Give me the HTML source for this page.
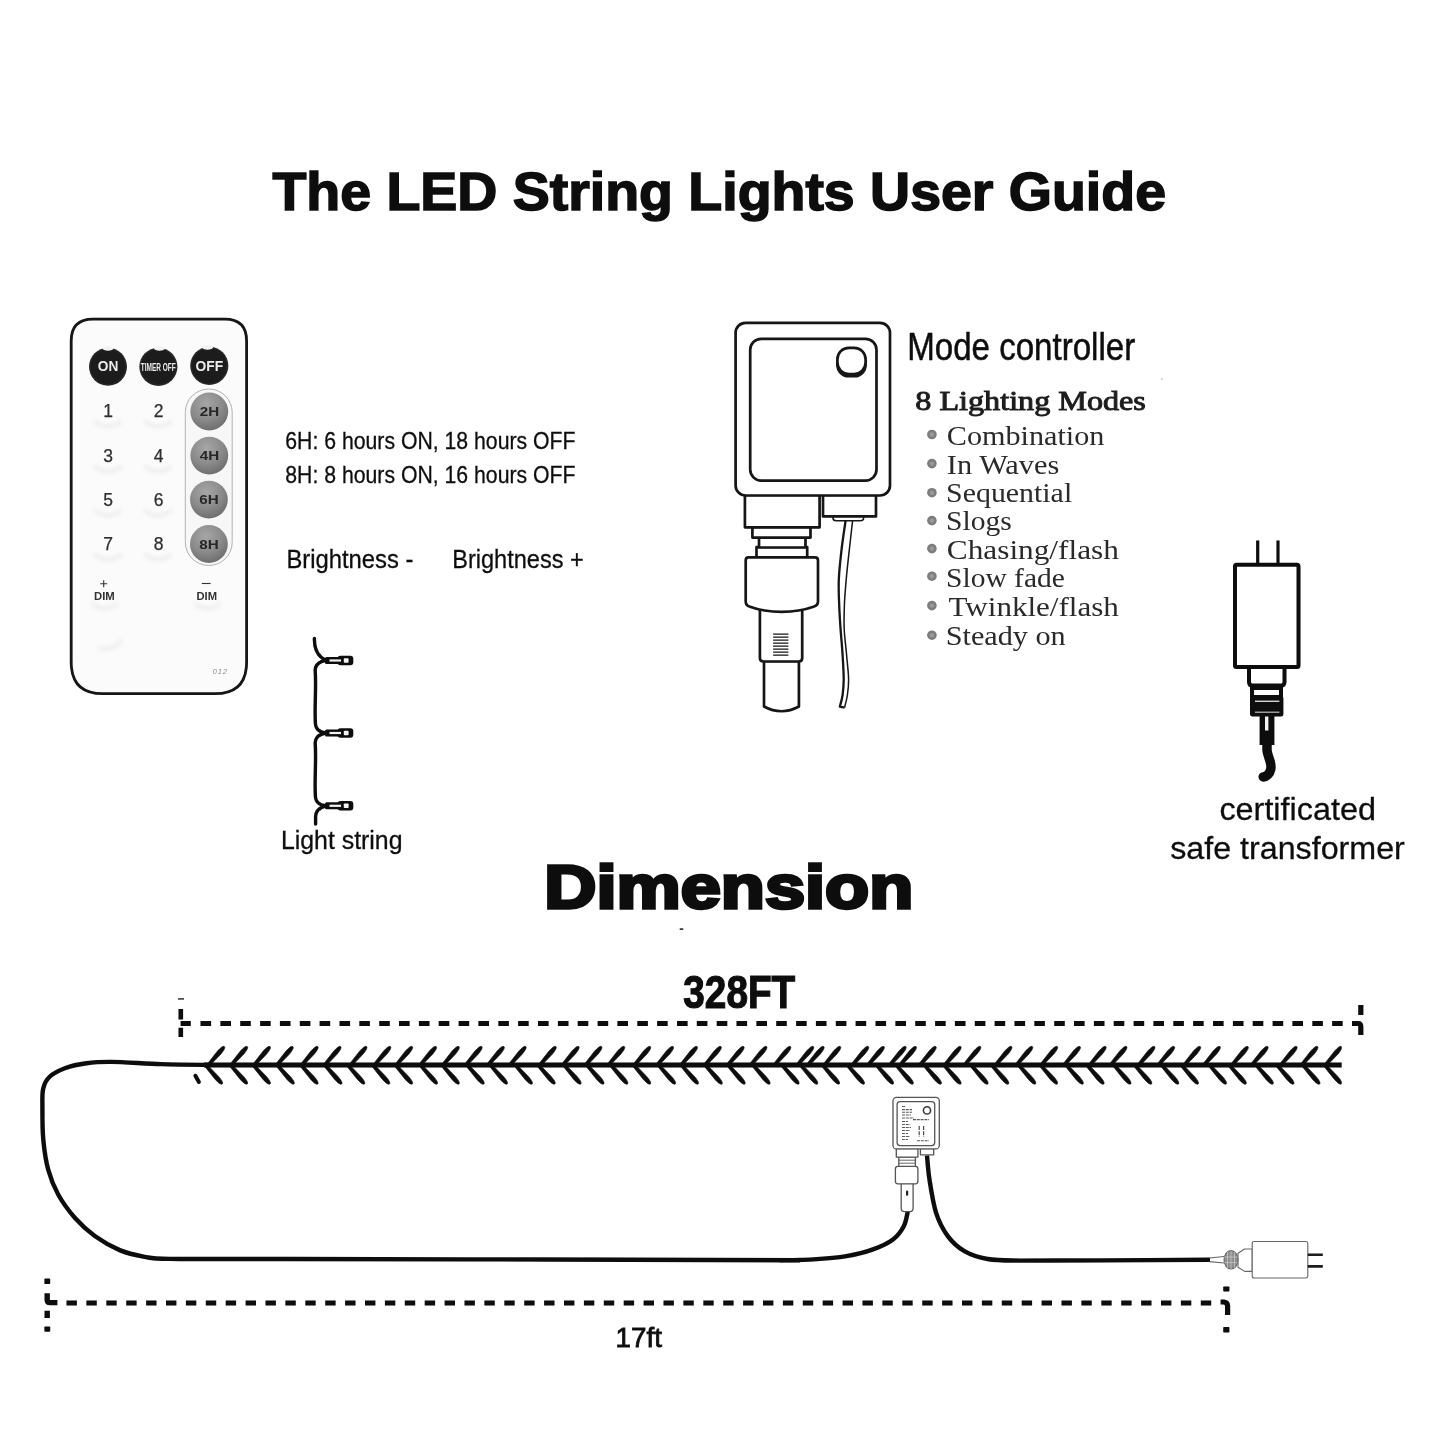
<!DOCTYPE html>
<html lang="en">
<head>
<meta charset="utf-8">
<title>The LED String Lights User Guide</title>
<style>
  html, body { margin: 0; padding: 0; background: #ffffff; }
  body { width: 1445px; height: 1445px; overflow: hidden; }
  svg { display: block; }
  .sans { font-family: "Liberation Sans", Arial, Helvetica, sans-serif; }
  .serif { font-family: "Liberation Serif", "Times New Roman", serif; }
  .b { font-weight: bold; }
</style>
</head>
<body>
<svg width="1445" height="1445" viewBox="0 0 1445 1445">
  <rect x="0" y="0" width="1445" height="1445" fill="#ffffff"/>
  <defs><filter id="soften" x="0" y="0" width="1445" height="1445" filterUnits="userSpaceOnUse"><feGaussianBlur stdDeviation="0.45"/></filter></defs>
  <g id="all" filter="url(#soften)">

  <!-- ===== TITLE ===== -->
  <g id="title">
    <text class="sans b" x="272.4" y="209.5" font-size="53" fill="#0a0a0a" stroke="#0a0a0a" stroke-width="1.5" textLength="893.6" lengthAdjust="spacingAndGlyphs">The LED String Lights User Guide</text>
  </g>

  <!-- ===== REMOTE ===== -->
  <g id="remote">
    <defs>
      <radialGradient id="gbtn" cx="42%" cy="30%" r="75%">
        <stop offset="0" stop-color="#a6a6a6"/>
        <stop offset="0.55" stop-color="#8b8b8b"/>
        <stop offset="1" stop-color="#6a6a6a"/>
      </radialGradient>
      <radialGradient id="kbtn" cx="50%" cy="50%" r="50%">
        <stop offset="0" stop-color="#1c1c1c"/>
        <stop offset="0.85" stop-color="#1a1a1a"/>
        <stop offset="1" stop-color="#2c2c2c"/>
      </radialGradient>
      <filter id="soft" x="-30%" y="-30%" width="160%" height="160%"><feGaussianBlur stdDeviation="2.2"/></filter>
      <filter id="soft1" x="-20%" y="-20%" width="140%" height="140%"><feGaussianBlur stdDeviation="0.7"/></filter>
    </defs>
    <!-- body -->
    <path d="M 93 319.1 H 224.8 C 239.4 319.1 246.6 326.5 246.6 341 V 662 C 246.6 683.2 236.4 693.7 215.2 693.7 H 102.5 C 81.5 693.7 71.2 683.2 71.2 662 V 341 C 71.2 326.5 78.5 319.1 93 319.1 Z" fill="#fbfbfb" stroke="#151515" stroke-width="2.8"/>
    <!-- faint embossed key shadows -->
    <g fill="none" stroke="#e6e6e6" stroke-width="2.6" filter="url(#soft)">
      <path d="M 94 421 Q 108 432 122 421"/><path d="M 144 421 Q 158 432 172 421"/>
      <path d="M 94 466 Q 108 477 122 466"/><path d="M 144 466 Q 158 477 172 466"/>
      <path d="M 94 510 Q 108 521 122 510"/><path d="M 144 510 Q 158 521 172 510"/>
      <path d="M 94 554 Q 108 565 122 554"/><path d="M 144 554 Q 158 565 172 554"/>
      <path d="M 91 603 Q 104 614 118 603"/><path d="M 194 603 Q 207 614 221 603"/>
      <path d="M 98 648 Q 112 652 122 640"/>
    </g>
    <!-- timer pill -->
    <rect x="185.3" y="389" width="46.9" height="176.5" rx="23.4" ry="23.4" fill="#f7f7f7" stroke="#b2b2b2" stroke-width="1"/>
    <!-- black buttons -->
    <g filter="url(#soft1)">
      <circle cx="108" cy="366.8" r="19" fill="url(#kbtn)"/>
      <circle cx="158.4" cy="366.8" r="19.1" fill="url(#kbtn)"/>
      <circle cx="209.3" cy="365.8" r="19.1" fill="url(#kbtn)"/>
    </g>
    <g fill="#f2f2f2" filter="url(#soft1)">
      <ellipse cx="108" cy="348.3" rx="5.5" ry="2.4"/>
      <ellipse cx="159.5" cy="348.3" rx="5.5" ry="2.4"/>
      <ellipse cx="207.5" cy="347.3" rx="5.5" ry="2.4"/>
    </g>
    <g class="sans b" fill="#ececec" text-anchor="middle">
      <text x="108" y="371.3" font-size="14" textLength="20.5" lengthAdjust="spacingAndGlyphs">ON</text>
      <text x="158.3" y="370.8" font-size="11.5" textLength="35" lengthAdjust="spacingAndGlyphs">TIMER OFF</text>
      <text x="209.4" y="370.6" font-size="14.5" textLength="27.6" lengthAdjust="spacingAndGlyphs">OFF</text>
    </g>
    <!-- gray buttons -->
    <g filter="url(#soft1)">
      <circle cx="209.3" cy="411.5" r="18.9" fill="url(#gbtn)"/>
      <circle cx="209.3" cy="455.6" r="18.9" fill="url(#gbtn)"/>
      <circle cx="208.9" cy="499.6" r="18.9" fill="url(#gbtn)"/>
      <circle cx="208.9" cy="544" r="18.9" fill="url(#gbtn)"/>
    </g>
    <g class="sans b" fill="#262626" text-anchor="middle" font-size="13.5">
      <text x="209.5" y="415.8" textLength="19.4" lengthAdjust="spacingAndGlyphs">2H</text>
      <text x="209.5" y="460" textLength="19.4" lengthAdjust="spacingAndGlyphs">4H</text>
      <text x="209" y="504.2" textLength="19.4" lengthAdjust="spacingAndGlyphs">6H</text>
      <text x="209" y="548.6" textLength="19.4" lengthAdjust="spacingAndGlyphs">8H</text>
    </g>
    <!-- digits -->
    <g class="sans" fill="#2e2e2e" stroke="#2e2e2e" stroke-width="0.25" text-anchor="middle" font-size="17.5">
      <text x="108.2" y="417.3">1</text><text x="158.5" y="417.3">2</text>
      <text x="108.2" y="461.6">3</text><text x="158.5" y="461.6">4</text>
      <text x="108.2" y="505.8">5</text><text x="158.5" y="505.8">6</text>
      <text x="108.2" y="550.4">7</text><text x="158.5" y="550.4">8</text>
    </g>
    <!-- dim labels -->
    <g stroke="#333" stroke-width="1.1" fill="none">
      <path d="M 100.2 583.8 H 107.2 M 103.7 580.3 V 587.3"/>
      <path d="M 201.8 583.5 H 210.6"/>
    </g>
    <g class="sans b" fill="#333" font-size="10.4">
      <text x="94" y="600.3" textLength="20.8" lengthAdjust="spacingAndGlyphs">DIM</text>
      <text x="196.5" y="600.3" textLength="20.6" lengthAdjust="spacingAndGlyphs">DIM</text>
    </g>
    <text class="sans" x="212.8" y="674.3" font-size="7.5" font-style="italic" fill="#8a8a8a" textLength="14.2" lengthAdjust="spacing">012</text>
  </g>

  <!-- ===== TIMER / BRIGHTNESS TEXT ===== -->
  <g id="timer-text" class="sans" fill="#111" stroke="#111" stroke-width="0.3">
    <text x="285.3" y="449.2" font-size="23.4" textLength="290.2" lengthAdjust="spacingAndGlyphs">6H: 6 hours ON, 18 hours OFF</text>
    <text x="285.3" y="483.2" font-size="23.4" textLength="290.2" lengthAdjust="spacingAndGlyphs">8H: 8 hours ON, 16 hours OFF</text>
    <text x="286.4" y="568.4" font-size="25.6" textLength="127" lengthAdjust="spacingAndGlyphs">Brightness -</text>
    <text x="452.2" y="568.4" font-size="25.6" textLength="131.6" lengthAdjust="spacingAndGlyphs">Brightness +</text>
    <text x="280.9" y="849" font-size="25.4" textLength="121.6" lengthAdjust="spacingAndGlyphs">Light string</text>
  </g>

  <!-- ===== LIGHT STRING ICON ===== -->
  <g id="light-string-icon">
    <path d="M 314.4 638.5 C 314.2 647 316 655.5 325.8 660.4 C 318.5 661.6 315.4 664.5 315.2 670 C 316.4 688 314.4 706 315.4 723.5 C 315.8 729.5 319 732.2 325.8 733 C 318.5 734.2 315.4 737.2 315.2 742.8 C 316.4 761 314.4 779 315.4 796.5 C 315.8 802.2 319 805 325.8 805.8 C 319.4 807.6 315.8 811 315.6 816.5 V 824"
          fill="none" stroke="#0b0b0b" stroke-width="3.4" stroke-linecap="round" stroke-linejoin="round"/>
    <g id="bulb1" transform="translate(0,660.5)">
      <rect x="325" y="-3.5" width="17" height="7" rx="1.5" fill="#0b0b0b"/>
      <rect x="337.5" y="-4.8" width="15.8" height="9.6" rx="3" fill="#0b0b0b"/>
      <rect x="329.5" y="-1.1" width="11.5" height="2.2" fill="#f4f4f4"/>
      <rect x="343.8" y="-2.3" width="4.8" height="4.6" rx="0.8" fill="#f4f4f4"/>
    </g>
    <g id="bulb2" transform="translate(0,733)">
      <rect x="325" y="-3.5" width="17" height="7" rx="1.5" fill="#0b0b0b"/>
      <rect x="337.5" y="-4.8" width="15.8" height="9.6" rx="3" fill="#0b0b0b"/>
      <rect x="329.5" y="-1.1" width="11.5" height="2.2" fill="#f4f4f4"/>
      <rect x="343.8" y="-2.3" width="4.8" height="4.6" rx="0.8" fill="#f4f4f4"/>
    </g>
    <g id="bulb3" transform="translate(0,805.8)">
      <rect x="325" y="-3.5" width="17" height="7" rx="1.5" fill="#0b0b0b"/>
      <rect x="337.5" y="-4.8" width="15.8" height="9.6" rx="3" fill="#0b0b0b"/>
      <rect x="329.5" y="-1.1" width="11.5" height="2.2" fill="#f4f4f4"/>
      <rect x="343.8" y="-2.3" width="4.8" height="4.6" rx="0.8" fill="#f4f4f4"/>
    </g>
  </g>

  <!-- ===== MODE CONTROLLER ===== -->
  <g id="controller" fill="#ffffff" stroke="#141414" stroke-width="2.7" stroke-linejoin="round">
    <!-- left connector stack (drawn bottom-up so upper parts overlap) -->
    <path d="M 764 661 V 706.5 Q 781.5 716 798.9 706.5 V 661 Z"/>
    <path d="M 759.9 608 V 658 Q 759.9 661.5 764 661.5 H 798.9 Q 802.2 661.5 802.2 658 V 608 Z"/>
    <g stroke-width="1.3" fill="none">
      <path d="M 773.1 634.2 H 788.4 M 773.1 637.2 H 788.4 M 773.1 640.2 H 788.4 M 773.1 643.2 H 788.4 M 773.1 646.2 H 788.4 M 773.1 649.2 H 788.4 M 773.1 652.2 H 788.4 M 773.1 655.2 H 788.4"/>
    </g>
    <rect x="756.5" y="547" width="50.7" height="12" />
    <path d="M 748.5 557.4 H 815 Q 818 557.4 818 560.4 V 601.5 Q 818 605.5 813.5 606.8 C 795 613.5 768 613.5 750 606.8 Q 745.7 605.5 745.7 601.5 V 560.4 Q 745.7 557.4 748.5 557.4 Z"/>
    <rect x="759" y="537" width="46.5" height="10.5"/>
    <rect x="752.4" y="527" width="58.1" height="10.6"/>
    <rect x="744.9" y="495" width="74.7" height="32.3"/>
    <!-- right connector -->
    <path d="M 833 516 H 863.6 V 518 Q 863.6 520.8 860 520.8 H 836.5 Q 833 520.8 833 518 Z" stroke-width="1.6"/>
    <rect x="823" y="495" width="53" height="21.4"/>
    <!-- thin double wire -->
    <path d="M 845.6 520.7 C 844.9 525.6 842.6 540.2 841.5 550.0 C 840.4 559.8 839.2 570.4 838.8 579.6 C 838.4 588.8 838.9 596.7 839.2 605.0 C 839.5 613.3 840.0 621.1 840.6 629.4 C 841.2 637.7 842.1 646.7 842.6 655.0 C 843.1 663.3 843.7 672.6 843.7 679.3 C 843.7 686.0 843.2 690.4 842.6 695.0 C 842.0 699.6 840.3 704.8 839.8 706.7 L 844.6 707.6" fill="none" stroke-width="2.3"/>
    <path d="M 852.6 520.7 C 852.0 525.6 850.4 540.2 849.3 550.0 C 848.2 559.8 847.0 570.4 846.2 579.6 C 845.4 588.8 844.7 596.7 844.4 605.0 C 844.1 613.3 843.8 621.1 844.2 629.4 C 844.6 637.7 845.9 646.7 846.6 655.0 C 847.3 663.3 848.5 672.6 848.6 679.3 C 848.7 686.0 848.1 690.3 847.4 695.0 C 846.7 699.7 845.1 705.4 844.6 707.5" fill="none" stroke-width="1.5"/>
    <!-- body -->
    <rect x="735.6" y="322.9" width="154.4" height="172.6" rx="10" ry="10"/>
    <rect x="750.2" y="338.8" width="126.3" height="141.8" rx="11" ry="11"/>
    <rect x="836.1" y="352" width="30.8" height="25.6" rx="12.5" ry="12.5" fill="#141414" stroke="none"/>
    <rect x="837.4" y="347.8" width="28.2" height="26.2" rx="11.5" ry="11.5"/>
  </g>

  <!-- ===== MODES TEXT ===== -->
  <g id="modes">
    <text class="sans" x="907.2" y="359.6" font-size="38.4" fill="#111" stroke="#111" stroke-width="0.55" textLength="228" lengthAdjust="spacingAndGlyphs">Mode controller</text>
    <text class="serif" x="915.3" y="409.6" font-size="27.6" fill="#1f1f1f" stroke="#1f1f1f" stroke-width="0.95" textLength="230.6" lengthAdjust="spacingAndGlyphs">8 Lighting Modes</text>
    <g fill="#7d7d7d">
      <circle cx="931.9" cy="434.5" r="4.8"/>
      <circle cx="931.9" cy="463.6" r="4.8"/>
      <circle cx="931.9" cy="492.7" r="4.8"/>
      <circle cx="931.9" cy="520.6" r="4.8"/>
      <circle cx="931.9" cy="548.6" r="4.8"/>
      <circle cx="931.9" cy="576.2" r="4.8"/>
      <circle cx="931.9" cy="605.6" r="4.8"/>
      <circle cx="931.9" cy="635.2" r="4.8"/>
    </g>
    <g fill="#9a9a9a">
      <circle cx="931.9" cy="434.5" r="2.2"/>
      <circle cx="931.9" cy="463.6" r="2.2"/>
      <circle cx="931.9" cy="492.7" r="2.2"/>
      <circle cx="931.9" cy="520.6" r="2.2"/>
      <circle cx="931.9" cy="548.6" r="2.2"/>
      <circle cx="931.9" cy="576.2" r="2.2"/>
      <circle cx="931.9" cy="605.6" r="2.2"/>
      <circle cx="931.9" cy="635.2" r="2.2"/>
    </g>
    <g class="serif" font-size="26.5" fill="#2a2a2a">
      <text x="946.8" y="445.4" textLength="157.6" lengthAdjust="spacingAndGlyphs">Combination</text>
      <text x="946.8" y="473.8" textLength="112.5" lengthAdjust="spacingAndGlyphs">In Waves</text>
      <text x="946.1" y="502.4" textLength="126.1" lengthAdjust="spacingAndGlyphs">Sequential</text>
      <text x="946.1" y="530.4" textLength="65.8" lengthAdjust="spacingAndGlyphs">Slogs</text>
      <text x="946.8" y="559.1" textLength="172.1" lengthAdjust="spacingAndGlyphs">Chasing/flash</text>
      <text x="946.1" y="587.4" textLength="118.8" lengthAdjust="spacingAndGlyphs">Slow fade</text>
      <text x="948.5" y="616.2" textLength="170.4" lengthAdjust="spacingAndGlyphs">Twinkle/flash</text>
      <text x="945.7" y="644.6" textLength="120.0" lengthAdjust="spacingAndGlyphs">Steady on</text>
    </g>
  </g>

  <circle cx="1162" cy="379" r="1" fill="#c8c8c8"/>
  <!-- ===== TRANSFORMER ===== -->
  <g id="transformer">
    <g fill="none" stroke="#0c0c0c" stroke-width="3.2">
      <path d="M 1257.7 540.4 V 564 M 1278 540.4 V 564"/>
    </g>
    <!-- cable -->
    <path d="M 1267 716 V 750 C 1267.5 757 1272.2 762.5 1270.8 769 C 1269.8 774 1266.4 776.6 1263.2 776.9" fill="none" stroke="#0c0c0c" stroke-width="9.5" stroke-linecap="round"/>
    <rect x="1259.6" y="715" width="14.8" height="30" fill="#0c0c0c"/>
    <rect x="1265" y="716" width="3.4" height="14.5" fill="#f2f2f2"/>
    <!-- nut -->
    <rect x="1250" y="696" width="33.4" height="20.4" rx="2.5" fill="#0c0c0c"/>
    <rect x="1255" y="700.6" width="24.4" height="1.3" fill="#e8e8e8"/>
    <rect x="1255" y="711.6" width="24.4" height="1.2" fill="#bdbdbd"/>
    <!-- neck 2 -->
    <rect x="1252" y="688" width="29" height="9" fill="#ffffff" stroke="#0c0c0c" stroke-width="4"/>
    <!-- neck 1 -->
    <path d="M 1249 667 V 682 Q 1249 685.5 1252.5 685.5 H 1281 Q 1284.5 685.5 1284.5 682 V 667 Z" fill="#ffffff" stroke="#0c0c0c" stroke-width="4"/>
    <!-- body -->
    <rect x="1235" y="564.7" width="63.5" height="102.2" rx="1.5" fill="#ffffff" stroke="#0c0c0c" stroke-width="4"/>
    <text class="sans" x="1219.4" y="819.9" font-size="31.2" fill="#111" stroke="#111" stroke-width="0.3" textLength="156.6" lengthAdjust="spacingAndGlyphs">certificated</text>
    <text class="sans" x="1170.2" y="859" font-size="31.2" fill="#111" stroke="#111" stroke-width="0.3" textLength="234.6" lengthAdjust="spacingAndGlyphs">safe transformer</text>
  </g>

  <!-- ===== DIMENSION ===== -->
  <!-- DIMSTART -->
  <g id="dim-diagram">
    <defs><clipPath id="clipR"><rect x="150" y="1030" width="1191.7" height="70"/></clipPath></defs>
    <g clip-path="url(#clipR)">
      <path d="M 209.5 1066.0 L 221.0 1054.0 Q 226.0 1048.0 224.4 1046.6 Q 222.8 1045.2 217.5 1051.0 L 207.3 1064.0 Z M 232.4 1066.0 L 243.9 1054.0 Q 248.9 1048.0 247.3 1046.6 Q 245.7 1045.2 240.4 1051.0 L 230.2 1064.0 Z M 255.2 1066.0 L 266.7 1054.0 Q 271.7 1048.0 270.1 1046.6 Q 268.5 1045.2 263.2 1051.0 L 253.0 1064.0 Z M 278.0 1066.0 L 289.5 1054.0 Q 294.5 1048.0 292.9 1046.6 Q 291.3 1045.2 286.0 1051.0 L 275.8 1064.0 Z M 302.9 1066.0 L 314.4 1054.0 Q 319.4 1048.0 317.8 1046.6 Q 316.2 1045.2 310.9 1051.0 L 300.7 1064.0 Z M 325.8 1066.0 L 337.3 1054.0 Q 342.3 1048.0 340.7 1046.6 Q 339.1 1045.2 333.8 1051.0 L 323.6 1064.0 Z M 351.7 1066.0 L 363.2 1054.0 Q 368.2 1048.0 366.6 1046.6 Q 365.0 1045.2 359.7 1051.0 L 349.5 1064.0 Z M 375.6 1066.0 L 387.1 1054.0 Q 392.1 1048.0 390.5 1046.6 Q 388.9 1045.2 383.6 1051.0 L 373.4 1064.0 Z M 397.4 1066.0 L 408.9 1054.0 Q 413.9 1048.0 412.3 1046.6 Q 410.7 1045.2 405.4 1051.0 L 395.2 1064.0 Z M 421.3 1066.0 L 432.8 1054.0 Q 437.8 1048.0 436.2 1046.6 Q 434.6 1045.2 429.3 1051.0 L 419.1 1064.0 Z M 444.1 1066.0 L 455.6 1054.0 Q 460.6 1048.0 459.0 1046.6 Q 457.4 1045.2 452.1 1051.0 L 441.9 1064.0 Z M 466.9 1066.0 L 478.4 1054.0 Q 483.4 1048.0 481.8 1046.6 Q 480.2 1045.2 474.9 1051.0 L 464.7 1064.0 Z M 489.1 1066.0 L 500.6 1054.0 Q 505.6 1048.0 504.0 1046.6 Q 502.4 1045.2 497.1 1051.0 L 486.9 1064.0 Z M 510.9 1066.0 L 522.4 1054.0 Q 527.4 1048.0 525.8 1046.6 Q 524.2 1045.2 518.9 1051.0 L 508.7 1064.0 Z M 541.0 1066.0 L 552.5 1054.0 Q 557.5 1048.0 555.9 1046.6 Q 554.3 1045.2 549.0 1051.0 L 538.8 1064.0 Z M 563.9 1066.0 L 575.4 1054.0 Q 580.4 1048.0 578.8 1046.6 Q 577.2 1045.2 571.9 1051.0 L 561.7 1064.0 Z M 586.7 1066.0 L 598.2 1054.0 Q 603.2 1048.0 601.6 1046.6 Q 600.0 1045.2 594.7 1051.0 L 584.5 1064.0 Z M 609.5 1066.0 L 621.0 1054.0 Q 626.0 1048.0 624.4 1046.6 Q 622.8 1045.2 617.5 1051.0 L 607.3 1064.0 Z M 635.5 1066.0 L 647.0 1054.0 Q 652.0 1048.0 650.4 1046.6 Q 648.8 1045.2 643.5 1051.0 L 633.3 1064.0 Z M 658.3 1066.0 L 669.8 1054.0 Q 674.8 1048.0 673.2 1046.6 Q 671.6 1045.2 666.3 1051.0 L 656.1 1064.0 Z M 682.2 1066.0 L 693.7 1054.0 Q 698.7 1048.0 697.1 1046.6 Q 695.5 1045.2 690.2 1051.0 L 680.0 1064.0 Z M 706.1 1066.0 L 717.6 1054.0 Q 722.6 1048.0 721.0 1046.6 Q 719.4 1045.2 714.1 1051.0 L 703.9 1064.0 Z M 728.9 1066.0 L 740.4 1054.0 Q 745.4 1048.0 743.8 1046.6 Q 742.2 1045.2 736.9 1051.0 L 726.7 1064.0 Z M 751.7 1066.0 L 763.2 1054.0 Q 768.2 1048.0 766.6 1046.6 Q 765.0 1045.2 759.7 1051.0 L 749.5 1064.0 Z M 775.6 1066.0 L 787.1 1054.0 Q 792.1 1048.0 790.5 1046.6 Q 788.9 1045.2 783.6 1051.0 L 773.4 1064.0 Z M 798.5 1066.0 L 810.0 1054.0 Q 815.0 1048.0 813.4 1046.6 Q 811.8 1045.2 806.5 1051.0 L 796.3 1064.0 Z M 808.9 1066.0 L 820.4 1054.0 Q 825.4 1048.0 823.8 1046.6 Q 822.2 1045.2 816.9 1051.0 L 806.7 1064.0 Z M 825.5 1066.0 L 837.0 1054.0 Q 842.0 1048.0 840.4 1046.6 Q 838.8 1045.2 833.5 1051.0 L 823.3 1064.0 Z M 853.5 1066.0 L 865.0 1054.0 Q 870.0 1048.0 868.4 1046.6 Q 866.8 1045.2 861.5 1051.0 L 851.3 1064.0 Z M 869.1 1066.0 L 880.6 1054.0 Q 885.6 1048.0 884.0 1046.6 Q 882.4 1045.2 877.1 1051.0 L 866.9 1064.0 Z M 890.9 1066.0 L 902.4 1054.0 Q 907.4 1048.0 905.8 1046.6 Q 904.2 1045.2 898.9 1051.0 L 888.7 1064.0 Z M 901.2 1066.0 L 912.7 1054.0 Q 917.7 1048.0 916.1 1046.6 Q 914.5 1045.2 909.2 1051.0 L 899.0 1064.0 Z M 921.0 1066.0 L 932.5 1054.0 Q 937.5 1048.0 935.9 1046.6 Q 934.3 1045.2 929.0 1051.0 L 918.8 1064.0 Z M 945.9 1066.0 L 957.4 1054.0 Q 962.4 1048.0 960.8 1046.6 Q 959.2 1045.2 953.9 1051.0 L 943.7 1064.0 Z M 965.6 1066.0 L 977.1 1054.0 Q 982.1 1048.0 980.5 1046.6 Q 978.9 1045.2 973.6 1051.0 L 963.4 1064.0 Z M 996.7 1066.0 L 1008.2 1054.0 Q 1013.2 1048.0 1011.6 1046.6 Q 1010.0 1045.2 1004.7 1051.0 L 994.5 1064.0 Z M 1017.5 1066.0 L 1029.0 1054.0 Q 1034.0 1048.0 1032.4 1046.6 Q 1030.8 1045.2 1025.5 1051.0 L 1015.3 1064.0 Z M 1042.4 1066.0 L 1053.9 1054.0 Q 1058.9 1048.0 1057.3 1046.6 Q 1055.7 1045.2 1050.4 1051.0 L 1040.2 1064.0 Z M 1065.2 1066.0 L 1076.7 1054.0 Q 1081.7 1048.0 1080.1 1046.6 Q 1078.5 1045.2 1073.2 1051.0 L 1063.0 1064.0 Z M 1090.9 1066.0 L 1102.4 1054.0 Q 1107.4 1048.0 1105.8 1046.6 Q 1104.2 1045.2 1098.9 1051.0 L 1088.7 1064.0 Z M 1111.7 1066.0 L 1123.2 1054.0 Q 1128.2 1048.0 1126.6 1046.6 Q 1125.0 1045.2 1119.7 1051.0 L 1109.5 1064.0 Z M 1139.7 1066.0 L 1151.2 1054.0 Q 1156.2 1048.0 1154.6 1046.6 Q 1153.0 1045.2 1147.7 1051.0 L 1137.5 1064.0 Z M 1159.4 1066.0 L 1170.9 1054.0 Q 1175.9 1048.0 1174.3 1046.6 Q 1172.7 1045.2 1167.4 1051.0 L 1157.2 1064.0 Z M 1185.4 1066.0 L 1196.9 1054.0 Q 1201.9 1048.0 1200.3 1046.6 Q 1198.7 1045.2 1193.4 1051.0 L 1183.2 1064.0 Z M 1205.1 1066.0 L 1216.6 1054.0 Q 1221.6 1048.0 1220.0 1046.6 Q 1218.4 1045.2 1213.1 1051.0 L 1202.9 1064.0 Z M 1233.1 1066.0 L 1244.6 1054.0 Q 1249.6 1048.0 1248.0 1046.6 Q 1246.4 1045.2 1241.1 1051.0 L 1230.9 1064.0 Z M 1252.9 1066.0 L 1264.4 1054.0 Q 1269.4 1048.0 1267.8 1046.6 Q 1266.2 1045.2 1260.9 1051.0 L 1250.7 1064.0 Z M 1281.9 1066.0 L 1293.4 1054.0 Q 1298.4 1048.0 1296.8 1046.6 Q 1295.2 1045.2 1289.9 1051.0 L 1279.7 1064.0 Z M 1302.7 1066.0 L 1314.2 1054.0 Q 1319.2 1048.0 1317.6 1046.6 Q 1316.0 1045.2 1310.7 1051.0 L 1300.5 1064.0 Z M 1326.6 1066.0 L 1338.1 1054.0 Q 1343.1 1048.0 1341.5 1046.6 Q 1339.9 1045.2 1334.6 1051.0 L 1324.4 1064.0 Z" fill="#0b0b0b" stroke="#0b0b0b" stroke-width="0.6" stroke-linejoin="round"/>
      <path d="M 204.4 1066.0 L 215.2 1079.4 Q 220.7 1085.4 222.3 1084.0 Q 223.9 1082.6 218.6 1076.4 L 206.6 1064.0 Z M 229.4 1066.0 L 240.2 1079.4 Q 245.7 1085.4 247.3 1084.0 Q 248.9 1082.6 243.6 1076.4 L 231.6 1064.0 Z M 252.2 1066.0 L 263.0 1079.4 Q 268.5 1085.4 270.1 1084.0 Q 271.7 1082.6 266.4 1076.4 L 254.4 1064.0 Z M 276.1 1066.0 L 286.9 1079.4 Q 292.4 1085.4 294.0 1084.0 Q 295.6 1082.6 290.3 1076.4 L 278.3 1064.0 Z M 299.9 1066.0 L 310.7 1079.4 Q 316.2 1085.4 317.8 1084.0 Q 319.4 1082.6 314.1 1076.4 L 302.1 1064.0 Z M 323.8 1066.0 L 334.6 1079.4 Q 340.1 1085.4 341.7 1084.0 Q 343.3 1082.6 338.0 1076.4 L 326.0 1064.0 Z M 346.6 1066.0 L 357.4 1079.4 Q 362.9 1085.4 364.5 1084.0 Q 366.1 1082.6 360.8 1076.4 L 348.8 1064.0 Z M 371.6 1066.0 L 382.4 1079.4 Q 387.9 1085.4 389.5 1084.0 Q 391.1 1082.6 385.8 1076.4 L 373.8 1064.0 Z M 394.4 1066.0 L 405.2 1079.4 Q 410.7 1085.4 412.3 1084.0 Q 413.9 1082.6 408.6 1076.4 L 396.6 1064.0 Z M 419.3 1066.0 L 430.1 1079.4 Q 435.6 1085.4 437.2 1084.0 Q 438.8 1082.6 433.5 1076.4 L 421.5 1064.0 Z M 441.1 1066.0 L 451.9 1079.4 Q 457.4 1085.4 459.0 1084.0 Q 460.6 1082.6 455.3 1076.4 L 443.3 1064.0 Z M 466.0 1066.0 L 476.8 1079.4 Q 482.3 1085.4 483.9 1084.0 Q 485.5 1082.6 480.2 1076.4 L 468.2 1064.0 Z M 489.3 1066.0 L 500.1 1079.4 Q 505.6 1085.4 507.2 1084.0 Q 508.8 1082.6 503.5 1076.4 L 491.5 1064.0 Z M 514.2 1066.0 L 525.0 1079.4 Q 530.5 1085.4 532.1 1084.0 Q 533.7 1082.6 528.4 1076.4 L 516.4 1064.0 Z M 537.0 1066.0 L 547.8 1079.4 Q 553.3 1085.4 554.9 1084.0 Q 556.5 1082.6 551.2 1076.4 L 539.2 1064.0 Z M 562.9 1066.0 L 573.7 1079.4 Q 579.2 1085.4 580.8 1084.0 Q 582.4 1082.6 577.1 1076.4 L 565.1 1064.0 Z M 585.8 1066.0 L 596.6 1079.4 Q 602.1 1085.4 603.7 1084.0 Q 605.3 1082.6 600.0 1076.4 L 588.0 1064.0 Z M 609.7 1066.0 L 620.5 1079.4 Q 626.0 1085.4 627.6 1084.0 Q 629.2 1082.6 623.9 1076.4 L 611.9 1064.0 Z M 632.5 1066.0 L 643.3 1079.4 Q 648.8 1085.4 650.4 1084.0 Q 652.0 1082.6 646.7 1076.4 L 634.7 1064.0 Z M 657.4 1066.0 L 668.2 1079.4 Q 673.7 1085.4 675.3 1084.0 Q 676.9 1082.6 671.6 1076.4 L 659.6 1064.0 Z M 680.3 1066.0 L 691.1 1079.4 Q 696.6 1085.4 698.2 1084.0 Q 699.8 1082.6 694.5 1076.4 L 682.5 1064.0 Z M 704.1 1066.0 L 714.9 1079.4 Q 720.4 1085.4 722.0 1084.0 Q 723.6 1082.6 718.3 1076.4 L 706.3 1064.0 Z M 727.0 1066.0 L 737.8 1079.4 Q 743.3 1085.4 744.9 1084.0 Q 746.5 1082.6 741.2 1076.4 L 729.2 1064.0 Z M 751.9 1066.0 L 762.7 1079.4 Q 768.2 1085.4 769.8 1084.0 Q 771.4 1082.6 766.1 1076.4 L 754.1 1064.0 Z M 780.9 1066.0 L 791.7 1079.4 Q 797.2 1085.4 798.8 1084.0 Q 800.4 1082.6 795.1 1076.4 L 783.1 1064.0 Z M 799.6 1066.0 L 810.4 1079.4 Q 815.9 1085.4 817.5 1084.0 Q 819.1 1082.6 813.8 1076.4 L 801.8 1064.0 Z M 821.4 1066.0 L 832.2 1079.4 Q 837.7 1085.4 839.3 1084.0 Q 840.9 1082.6 835.6 1076.4 L 823.6 1064.0 Z M 846.3 1066.0 L 857.1 1079.4 Q 862.6 1085.4 864.2 1084.0 Q 865.8 1082.6 860.5 1076.4 L 848.5 1064.0 Z M 875.4 1066.0 L 886.2 1079.4 Q 891.7 1085.4 893.3 1084.0 Q 894.9 1082.6 889.6 1076.4 L 877.6 1064.0 Z M 895.1 1066.0 L 905.9 1079.4 Q 911.4 1085.4 913.0 1084.0 Q 914.6 1082.6 909.3 1076.4 L 897.3 1064.0 Z M 923.2 1066.0 L 934.0 1079.4 Q 939.5 1085.4 941.1 1084.0 Q 942.7 1082.6 937.4 1076.4 L 925.4 1064.0 Z M 942.9 1066.0 L 953.7 1079.4 Q 959.2 1085.4 960.8 1084.0 Q 962.4 1082.6 957.1 1076.4 L 945.1 1064.0 Z M 969.9 1066.0 L 980.7 1079.4 Q 986.2 1085.4 987.8 1084.0 Q 989.4 1082.6 984.1 1076.4 L 972.1 1064.0 Z M 990.6 1066.0 L 1001.4 1079.4 Q 1006.9 1085.4 1008.5 1084.0 Q 1010.1 1082.6 1004.8 1076.4 L 992.8 1064.0 Z M 1017.6 1066.0 L 1028.4 1079.4 Q 1033.9 1085.4 1035.5 1084.0 Q 1037.1 1082.6 1031.8 1076.4 L 1019.8 1064.0 Z M 1039.4 1066.0 L 1050.2 1079.4 Q 1055.7 1085.4 1057.3 1084.0 Q 1058.9 1082.6 1053.6 1076.4 L 1041.6 1064.0 Z M 1065.1 1066.0 L 1075.9 1079.4 Q 1081.4 1085.4 1083.0 1084.0 Q 1084.6 1082.6 1079.3 1076.4 L 1067.3 1064.0 Z M 1085.9 1066.0 L 1096.7 1079.4 Q 1102.2 1085.4 1103.8 1084.0 Q 1105.4 1082.6 1100.1 1076.4 L 1088.1 1064.0 Z M 1112.8 1066.0 L 1123.6 1079.4 Q 1129.1 1085.4 1130.7 1084.0 Q 1132.3 1082.6 1127.0 1076.4 L 1115.0 1064.0 Z M 1133.6 1066.0 L 1144.4 1079.4 Q 1149.9 1085.4 1151.5 1084.0 Q 1153.1 1082.6 1147.8 1076.4 L 1135.8 1064.0 Z M 1160.6 1066.0 L 1171.4 1079.4 Q 1176.9 1085.4 1178.5 1084.0 Q 1180.1 1082.6 1174.8 1076.4 L 1162.8 1064.0 Z M 1180.3 1066.0 L 1191.1 1079.4 Q 1196.6 1085.4 1198.2 1084.0 Q 1199.8 1082.6 1194.5 1076.4 L 1182.5 1064.0 Z M 1208.3 1066.0 L 1219.1 1079.4 Q 1224.6 1085.4 1226.2 1084.0 Q 1227.8 1082.6 1222.5 1076.4 L 1210.5 1064.0 Z M 1228.1 1066.0 L 1238.9 1079.4 Q 1244.4 1085.4 1246.0 1084.0 Q 1247.6 1082.6 1242.3 1076.4 L 1230.3 1064.0 Z M 1255.1 1066.0 L 1265.9 1079.4 Q 1271.4 1085.4 1273.0 1084.0 Q 1274.6 1082.6 1269.3 1076.4 L 1257.3 1064.0 Z M 1275.8 1066.0 L 1286.6 1079.4 Q 1292.1 1085.4 1293.7 1084.0 Q 1295.3 1082.6 1290.0 1076.4 L 1278.0 1064.0 Z M 1301.8 1066.0 L 1312.6 1079.4 Q 1318.1 1085.4 1319.7 1084.0 Q 1321.3 1082.6 1316.0 1076.4 L 1304.0 1064.0 Z M 1323.6 1066.0 L 1334.4 1079.4 Q 1339.9 1085.4 1341.5 1084.0 Q 1343.1 1082.6 1337.8 1076.4 L 1325.8 1064.0 Z" fill="#0b0b0b" stroke="#0b0b0b" stroke-width="0.6" stroke-linejoin="round"/>
      <path d="M 195.4 1075.8 L 198.9 1082" fill="none" stroke="#0b0b0b" stroke-width="4" stroke-linecap="round"/>
      <path d="M 204 1065 H 1345" fill="none" stroke="#0b0b0b" stroke-width="4.8"/>
    </g>
    <path d="M 209.0 1064.9 C 201.0 1064.8 177.5 1064.6 161.2 1064.1 C 144.9 1063.6 123.9 1062.0 111.4 1061.9 C 98.9 1061.8 94.2 1062.2 86.4 1063.3 C 78.7 1064.3 71.0 1066.0 64.9 1068.2 C 58.8 1070.4 53.5 1073.2 49.9 1076.5 C 46.3 1079.8 44.5 1083.2 43.3 1088.2 C 42.0 1093.2 42.4 1097.8 42.4 1106.4 C 42.4 1115.0 42.3 1129.2 43.3 1139.7 C 44.3 1150.2 45.7 1160.5 48.2 1169.6 C 50.7 1178.7 53.8 1186.5 58.2 1194.5 C 62.6 1202.5 68.7 1210.8 74.8 1217.7 C 80.9 1224.6 87.3 1230.6 94.8 1236.0 C 102.3 1241.4 111.4 1246.6 119.7 1250.1 C 128.0 1253.6 136.3 1255.3 144.6 1256.8 C 152.9 1258.3 150.3 1258.5 169.5 1258.9 C 188.7 1259.3 204.9 1258.9 260.0 1259.0 C 315.1 1259.1 410.0 1259.2 500.0 1259.4 C 590.0 1259.6 750.0 1260.1 800.0 1260.2" fill="none" stroke="#0b0b0b" stroke-width="4.4" stroke-linejoin="round"/>
    <path d="M 780.0 1260.2 C 785.5 1260.1 802.1 1260.1 813.2 1259.4 C 824.3 1258.7 836.4 1257.8 846.4 1256.1 C 856.4 1254.4 865.2 1252.2 873.0 1249.4 C 880.8 1246.6 887.9 1243.4 893.0 1239.5 C 898.1 1235.6 901.3 1230.9 903.8 1226.2 C 906.3 1221.5 907.1 1214.0 907.8 1211.5" fill="none" stroke="#0b0b0b" stroke-width="4.4"/>
    <path d="M 927.0 1155.5 C 927.4 1159.5 928.0 1170.1 929.5 1179.7 C 931.0 1189.3 933.1 1203.5 936.1 1212.9 C 939.1 1222.3 943.1 1229.7 947.8 1236.1 C 952.5 1242.5 957.8 1247.3 964.4 1251.1 C 971.0 1254.9 978.3 1257.4 987.6 1259.0 C 996.9 1260.6 1001.3 1260.4 1020.0 1260.6 C 1038.7 1260.8 1068.3 1260.5 1100.0 1260.4 C 1131.7 1260.3 1191.7 1259.9 1210.0 1259.8" fill="none" stroke="#0b0b0b" stroke-width="4.4"/>
    <path d="M 180.6 1023.5 H 190.8 M 200.5 1023.5 h 10.6 M 220.4 1023.5 h 10.6 M 240.2 1023.5 h 10.6 M 260.1 1023.5 h 10.6 M 279.9 1023.5 h 10.6 M 299.8 1023.5 h 10.6 M 319.6 1023.5 h 10.6 M 339.5 1023.5 h 10.6 M 359.3 1023.5 h 10.6 M 379.2 1023.5 h 10.6 M 399.0 1023.5 h 10.6 M 418.9 1023.5 h 10.6 M 438.7 1023.5 h 10.6 M 458.6 1023.5 h 10.6 M 478.4 1023.5 h 10.6 M 498.3 1023.5 h 10.6 M 518.1 1023.5 h 10.6 M 538.0 1023.5 h 10.6 M 557.9 1023.5 h 10.6 M 577.7 1023.5 h 10.6 M 597.6 1023.5 h 10.6 M 617.4 1023.5 h 10.6 M 637.3 1023.5 h 10.6 M 657.1 1023.5 h 10.6 M 677.0 1023.5 h 10.6 M 696.8 1023.5 h 10.6 M 716.7 1023.5 h 10.6 M 736.5 1023.5 h 10.6 M 756.4 1023.5 h 10.6 M 776.2 1023.5 h 10.6 M 796.1 1023.5 h 10.6 M 815.9 1023.5 h 10.6 M 835.8 1023.5 h 10.6 M 855.6 1023.5 h 10.6 M 875.5 1023.5 h 10.6 M 895.4 1023.5 h 10.6 M 915.2 1023.5 h 10.6 M 935.1 1023.5 h 10.6 M 954.9 1023.5 h 10.6 M 974.8 1023.5 h 10.6 M 994.6 1023.5 h 10.6 M 1014.5 1023.5 h 10.6 M 1034.3 1023.5 h 10.6 M 1054.2 1023.5 h 10.6 M 1074.0 1023.5 h 10.6 M 1093.9 1023.5 h 10.6 M 1113.7 1023.5 h 10.6 M 1133.6 1023.5 h 10.6 M 1153.4 1023.5 h 10.6 M 1173.3 1023.5 h 10.6 M 1193.1 1023.5 h 10.6 M 1213.0 1023.5 h 10.6 M 1232.9 1023.5 h 10.6 M 1252.7 1023.5 h 10.6 M 1272.6 1023.5 h 10.6 M 1292.4 1023.5 h 10.6 M 1312.3 1023.5 h 10.6 M 1332.1 1023.5 h 10.6" fill="none" stroke="#0b0b0b" stroke-width="4.8"/>
    <path d="M 180.8 1009 V 1019.6 M 180.8 1027.7 V 1037" fill="none" stroke="#0b0b0b" stroke-width="4.6"/>
    <rect x="178" y="998" width="6" height="1.8" fill="#555"/>
    <path d="M 1352 1023.5 H 1358 Q 1360.8 1023.5 1360.8 1026.5 V 1035 M 1360.8 1005 V 1015" fill="none" stroke="#0b0b0b" stroke-width="5.2"/>
    <path d="M 66.5 1302.9 h 10.4 M 86.4 1302.9 h 10.4 M 106.3 1302.9 h 10.4 M 126.2 1302.9 h 10.4 M 146.1 1302.9 h 10.4 M 166.0 1302.9 h 10.4 M 185.9 1302.9 h 10.4 M 205.8 1302.9 h 10.4 M 225.7 1302.9 h 10.4 M 245.6 1302.9 h 10.4 M 265.5 1302.9 h 10.4 M 285.4 1302.9 h 10.4 M 305.3 1302.9 h 10.4 M 325.2 1302.9 h 10.4 M 345.1 1302.9 h 10.4 M 365.0 1302.9 h 10.4 M 384.9 1302.9 h 10.4 M 404.8 1302.9 h 10.4 M 424.7 1302.9 h 10.4 M 444.6 1302.9 h 10.4 M 464.5 1302.9 h 10.4 M 484.4 1302.9 h 10.4 M 504.3 1302.9 h 10.4 M 524.2 1302.9 h 10.4 M 544.1 1302.9 h 10.4 M 564.0 1302.9 h 10.4 M 583.9 1302.9 h 10.4 M 603.8 1302.9 h 10.4 M 623.7 1302.9 h 10.4 M 643.6 1302.9 h 10.4 M 663.5 1302.9 h 10.4 M 683.4 1302.9 h 10.4 M 703.3 1302.9 h 10.4 M 723.2 1302.9 h 10.4 M 743.1 1302.9 h 10.4 M 763.0 1302.9 h 10.4 M 782.9 1302.9 h 10.4 M 802.8 1302.9 h 10.4 M 822.7 1302.9 h 10.4 M 842.6 1302.9 h 10.4 M 862.5 1302.9 h 10.4 M 882.4 1302.9 h 10.4 M 902.3 1302.9 h 10.4 M 922.2 1302.9 h 10.4 M 942.1 1302.9 h 10.4 M 962.0 1302.9 h 10.4 M 981.9 1302.9 h 10.4 M 1001.8 1302.9 h 10.4 M 1021.7 1302.9 h 10.4 M 1041.6 1302.9 h 10.4 M 1061.5 1302.9 h 10.4 M 1081.4 1302.9 h 10.4 M 1101.3 1302.9 h 10.4 M 1121.2 1302.9 h 10.4 M 1141.1 1302.9 h 10.4 M 1161.0 1302.9 h 10.4 M 1180.9 1302.9 h 10.4 M 1200.8 1302.9 h 10.4" fill="none" stroke="#0b0b0b" stroke-width="5"/>
    <path d="M 47.2 1293.2 V 1300 Q 47.2 1302.6 50 1302.6 H 57.4 M 47.2 1310.7 V 1318.1" fill="none" stroke="#0b0b0b" stroke-width="5.4"/>
    <rect x="44.4" y="1278.6" width="5.8" height="5.4" rx="0.8" fill="#0b0b0b"/>
    <rect x="44.4" y="1326.4" width="5.8" height="5.4" rx="0.8" fill="#0b0b0b"/>
    <path d="M 1220.6 1302 H 1224 Q 1227.6 1302.4 1227.6 1306 V 1315" fill="none" stroke="#0b0b0b" stroke-width="5.2"/>
    <rect x="1223.2" y="1286.4" width="6.2" height="5.2" rx="0.8" fill="#0b0b0b"/>
    <rect x="1223.2" y="1327" width="6.2" height="5.6" rx="0.8" fill="#0b0b0b"/>
    <rect x="679.5" y="928.2" width="4" height="1.8" rx="0.9" fill="#333"/>
    <g fill="#ffffff" stroke="#555555" stroke-width="1.3" stroke-linejoin="round">
      <path d="M 901.2 1183 V 1208 Q 901.2 1211.6 904.4 1211.6 H 910 Q 913.1 1211.6 913.1 1208 V 1183 Z"/>
      <rect x="895.4" y="1166.4" width="22.5" height="17.4" rx="2.5"/>
      <rect x="898.8" y="1157" width="16.6" height="9.4"/>
      <path d="M 898.8 1160.2 H 915.4 M 898.8 1163.2 H 915.4" fill="none" stroke-width="0.9"/>
      <rect x="896.3" y="1148.5" width="21.6" height="8.7"/>
      <rect x="920.4" y="1148.5" width="13.3" height="6.3"/>
      <rect x="893" y="1097.4" width="46.3" height="51.5" rx="3.5"/>
      <rect x="897.1" y="1101.6" width="37.6" height="44" rx="3"/>
      <circle cx="927" cy="1110.4" r="3.6" stroke="#3a3a3a" stroke-width="1.6"/>
    </g>
    <rect x="906" y="1190.5" width="2.2" height="5.2" rx="1" fill="#222"/>
    <path d="M 902 1106.5 h 4 M 902 1109.6 h 10 M 902 1112.2 h 10 M 902 1115 h 9 M 902 1118 h 12 M 902 1121.5 h 6 M 902 1124.5 h 8 M 902 1127.5 h 9 M 902 1130.5 h 8 M 902 1133.5 h 6 M 902 1136.5 h 8 M 902 1139.5 h 6 M 913 1119.6 h 16 M 917 1140.8 h 12" fill="none" stroke="#5a5a5a" stroke-width="1.1" stroke-dasharray="3 0.8"/>
    <path d="M 919.2 1126 V 1137 M 923.6 1126 V 1137" fill="none" stroke="#4a4a4a" stroke-width="1.2" stroke-dasharray="4 1.2"/>
    <g fill="#ffffff" stroke="#666666" stroke-width="1.1" stroke-linejoin="round">
      <path d="M 1209.5 1258 L 1224 1256.5 M 1209.5 1261.6 L 1224 1263" fill="none" stroke="#666" stroke-width="1.1"/>
      <path d="M 1238 1253.2 L 1244.6 1249 H 1252.2 V 1271.4 H 1244.6 L 1238 1267.2 Z"/>
      <ellipse cx="1231" cy="1259.8" rx="7" ry="9.2" fill="#8f8f8f" stroke="#6a6a6a"/>
      <path d="M 1227.5 1252 V 1267.6 M 1231 1250.8 V 1268.8 M 1234.5 1252 V 1267.6 M 1224.4 1257 H 1237.6 M 1224.4 1262.6 H 1237.6" fill="none" stroke="#c4c4c4" stroke-width="0.8"/>
      <rect x="1252.2" y="1241.5" width="55.6" height="36.5" rx="2"/>
    </g>
    <path d="M 1307.8 1254.8 H 1322.8 M 1307.8 1266.4 H 1322.8" fill="none" stroke="#1c1c1c" stroke-width="2.6"/>
  </g>
  <!-- DIMEND -->
  <g id="dimension">
    <text class="sans b" x="544.3" y="908" font-size="62" fill="#0a0a0a" stroke="#0a0a0a" stroke-width="3.4" stroke-linejoin="miter" textLength="369" lengthAdjust="spacingAndGlyphs">Dimension</text>
    <text class="sans b" x="683.3" y="1008" font-size="47" fill="#111" stroke="#111" stroke-width="1.2" textLength="112" lengthAdjust="spacingAndGlyphs">328FT</text>
    <text class="sans" x="615.6" y="1346.8" font-size="28.4" fill="#111" stroke="#111" stroke-width="0.8" textLength="46.4" lengthAdjust="spacingAndGlyphs">17ft</text>
  </g>
  </g>
</svg>
</body>
</html>
